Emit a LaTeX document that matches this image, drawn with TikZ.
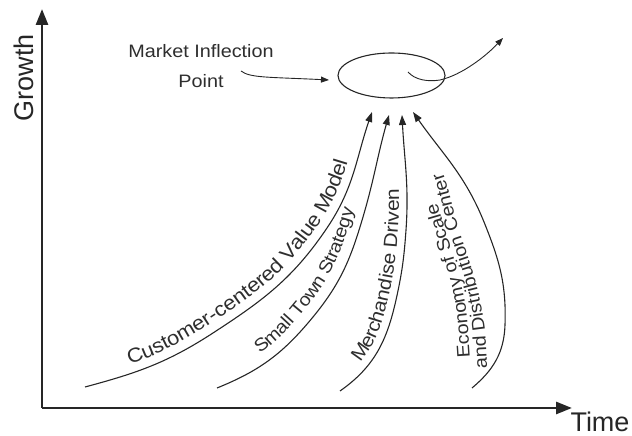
\documentclass[tikz,border=0pt]{standalone}
\usepackage{fontspec}
\setmainfont{Liberation Sans}
\newfontfamily\lblfont{Liberation Sans}[FakeStretch=1.1]
\usetikzlibrary{arrows.meta,shapes.geometric,decorations.text}
\definecolor{ink}{HTML}{262626}
\definecolor{txt}{HTML}{2E2E2E}
% the drawing is laid out on a grid of quarter points
\newcommand\curvefontL{\lblfont\fontsize{5}{6}\selectfont}
\newcommand\curvefont{\lblfont\fontsize{4.75}{6}\selectfont}
\newcommand\curvefontS{\lblfont\fontsize{4.5}{6}\selectfont}
\begin{document}
\begin{tikzpicture}[x=0.25pt,y=-0.25pt,
  axis/.style={line width=0.7pt, draw=ink, -{Triangle[length=4pt,width=3pt]}},
  conn/.style={line width=0.275pt, draw=ink, -{Triangle[length=2.5pt,width=1.75pt]}},
  pointer/.style={line width=0.225pt, draw=ink, -{Triangle[length=2pt,width=1.5pt]}},
  axlabel/.style={font=\fontsize{6.75}{7.5}\selectfont, text=ink, inner sep=0pt},
  callout/.style={font=\lblfont\fontsize{4.5}{7.5}\selectfont, text=txt, align=center, inner sep=0pt},
  curvelabel/.style={decorate, decoration={text along path, text color=txt, #1}}
]
\useasboundingbox (0,0) rectangle (632,436);

% axes
\coordinate (O) at (42,408);
\coordinate (ytip) at (42,9);
\coordinate (xtip) at (572,408);
\draw[axis] (O) -- (ytip);
\draw[axis] (O) -- (xtip);
\node[axlabel, rotate=90] (growth) at (24,78) {Growth};
\node[axlabel] (time) at (600,422) {Time};

% inflection point
\node[ellipse, draw=ink, line width=0.275pt, minimum width=26.75pt, minimum height=11.25pt, inner sep=0pt] (mip) at (391.5,75.5) {};
\node[callout] (mlabel) at (201,66.5) {Market Inflection\\Point};
\coordinate (m0) at (241,71);
\coordinate (m1) at (329,80);
\draw[pointer] (m0) .. controls (250,78) and (268,77) .. (m1);
\coordinate (e0) at (408,72);
\coordinate (e1) at (503,38);
\draw[pointer] (e0) .. controls (415,80) and (428,82) .. (440,80) .. controls (462,75) and (486,56) .. (e1);

% strategy curves
\coordinate (s1) at (85,387);  \coordinate (t1) at (372,112);
\coordinate (s2) at (217,388); \coordinate (t2) at (389,115);
\coordinate (s3) at (340,391); \coordinate (t3) at (402,115);
\coordinate (s4) at (472,388); \coordinate (t4) at (413,112);

\draw[conn] (s1) to[out=15,in=213] (213,333) to[out=33,in=236] (327,228) to[out=56,in=251] (t1);
\draw[conn] (s2) to[out=22,in=230.6] (313,317) to[out=50.6,in=253.6] (363,217) to[out=73.6,in=254] (t2);
\draw[conn] (s3) to[out=35,in=257.4] (396,300) to[out=77.4,in=266] (406,230) to[out=86,in=273] (t3);
\draw[conn] (s4) to[out=40,in=268] (505,325) to[out=88,in=292] (484,222) to[out=112,in=305] (t4);

% labels running along the curves
\path[curvelabel={text={|\curvefontL|Customer-centered Value Model}, raise=2.25pt, text align={left indent=12.5pt}}]
  (s1) to[out=15,in=213] (213,333) to[out=33,in=236] (327,228) to[out=56,in=251] (t1);
\path[curvelabel={text={|\curvefontS|Small Town Strategy}, raise=2.75pt, text align={left indent=14pt}}]
  (s2) to[out=22,in=230.6] (313,317) to[out=50.6,in=253.6] (363,217) to[out=73.6,in=254] (t2);
\path[curvelabel={text={|\curvefont|Merchandise Driven}, raise=2pt, text align={left indent=9pt}}]
  (s3) to[out=35,in=257.4] (396,300) to[out=77.4,in=266] (406,230) to[out=86,in=273] (t3);
\coordinate (d0) at (487,369);
\coordinate (c0) at (470,358);
\path[curvelabel={text={|\curvefontS|and Distribution Center}}]
  (d0) to[out=92,in=282] (480,300) to[out=102,in=288] (460,233) to[out=108,in=290] (442,170);
\path[curvelabel={text={|\curvefontS|Economy of Scale}}]
  (c0) to[out=94,in=285] (460,280) to[out=105,in=285] (435,195);
\end{tikzpicture}
\end{document}
